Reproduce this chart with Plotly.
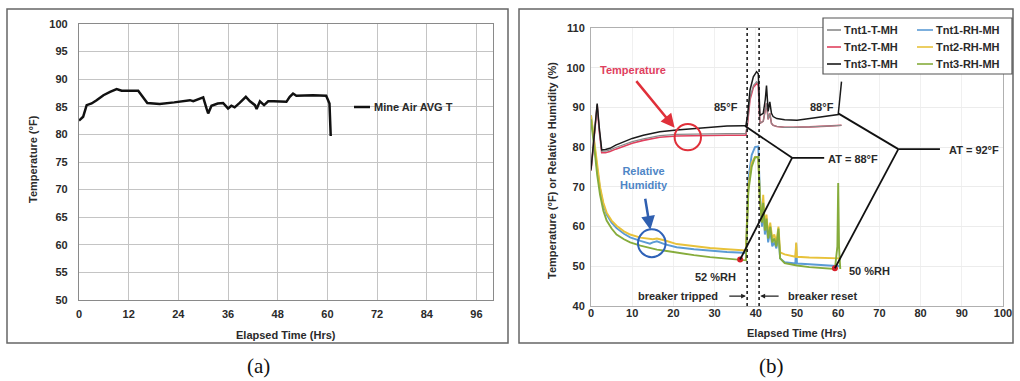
import plotly.graph_objects as go

# ---------------- Panel (a): Mine air average temperature ----------------
a_time = [0.0, 1.0, 1.85, 3.05, 4.25, 5.9, 7.5, 9.1, 10.3, 12.0, 14.3, 16.5, 19.5, 23.0, 26.8, 27.6,
          30.0, 30.8, 31.2, 32.0, 33.5, 34.8, 36.0, 36.8, 37.6, 38.8, 40.3, 41.3, 42.5, 42.9, 43.7,
          44.7, 45.7, 47.0, 50.1, 50.9, 51.7, 52.5, 56.5, 59.7, 60.5, 60.8]
a_temp = [82.5, 83.2, 85.3, 85.6, 86.2, 87.1, 87.7, 88.2, 87.9, 87.9, 87.9, 85.7, 85.5, 85.8, 86.2, 86.0,
          86.7, 84.7, 83.8, 85.2, 85.6, 85.7, 84.7, 85.2, 84.9, 85.7, 86.8, 86.0, 85.3, 84.6, 86.0,
          85.3, 86.0, 86.0, 85.9, 86.8, 87.4, 87.0, 87.1, 87.0, 85.6, 79.7]
a_xticks = [0, 12, 24, 36, 48, 60, 72, 84, 96]
a_yticks = [50, 55, 60, 65, 70, 75, 80, 85, 90, 95, 100]

# ---------------- Panel (b): tent temperatures and humidities ----------------
t_temp = [0, 0.5, 1, 1.5, 2, 2.6, 3.5, 4.6, 6, 8, 10, 12.7, 15, 16.7, 20.8, 24.8, 28.9, 33, 37,
          37.6, 38, 38.6, 39.4, 40.2, 40.6, 41, 41.8, 42.3, 42.6, 43, 43.4, 43.8, 44.2, 45.1, 47,
          49.1, 49.6, 49.8, 50, 53.1, 57.2, 59.5, 60, 60.4, 60.8]
tnt3_t = [74.3, 80, 86, 91, 85, 79.3, 79.4, 79.7, 80.5, 81.4, 82.2, 83, 83.6, 83.9, 84.3, 84.6, 85.1,
          85.3, 85.4, 85.4, 88, 94.4, 97.7, 99, 98.5, 88, 88.5, 92, 95.5, 89, 91.4, 88.5, 87.7, 87.2,
          86.9, 86.8, 86.8, 86.8, 86.8, 87.2, 87.7, 88, 88.2, 92.3, 96.5]
tnt2_t = [74.0, 79.5, 85.5, 90.5, 84, 78.6, 78.6, 78.9, 79.5, 80.3, 81.0, 81.7, 82.2, 82.5, 82.8, 82.9,
          83.0, 83.0, 83.0, 83.0, 86, 92, 95, 96, 95.5, 86, 86.5, 89, 91, 87, 88.5, 86, 85.5, 85.2,
          85.0, 85.0, 85.0, 85.0, 85.0, 85.1, 85.3, 85.5, 85.5, 85.5, 85.5]
tnt1_t = [74.0, 79.8, 85.8, 90.8, 84.4, 79.0, 79.0, 79.3, 79.9, 80.7, 81.4, 82.1, 82.6, 82.9, 83.2, 83.3,
          83.4, 83.4, 83.4, 83.4, 86.5, 92.5, 95.5, 96.5, 96, 86, 86.5, 89, 91, 87, 88.5, 86, 85.5, 85.2,
          85.0, 85.0, 85.0, 85.0, 85.0, 85.1, 85.3, 85.5, 85.5, 85.5, 85.5]

t_rh = [0, 0.5, 1, 1.5, 2.2, 3, 3.8, 5, 6.2, 8, 9.5, 12, 14.3, 15, 16, 18, 20.8, 25, 28.9, 33, 37,
        37.6, 38.2, 39, 39.8, 40.6, 41, 41.5, 41.8, 42.2, 42.6, 43, 43.5, 44, 44.5, 45, 45.5, 45.9,
        47, 49, 49.6, 49.8, 50, 53, 57, 59.2, 59.8, 60, 60.2, 60.5]
tnt2_rh = [88, 84, 79.5, 75, 70, 66, 63.5, 61.5, 60.2, 58.8, 58, 57.2, 56.8, 56.8, 57, 56.5, 55.6,
           55, 54.6, 54.3, 54.1, 54, 70, 76, 77.5, 77.5, 66, 62, 68, 60, 63, 58, 61, 57, 58, 56, 60,
           53.5, 53, 52.5, 52.4, 56, 52.4, 52.2, 52, 52, 52, 52, 52, 52]
tnt1_rh = [88, 84, 79, 74.5, 69.5, 65.5, 63, 61, 59.6, 58.2, 57.3, 56.4, 55.7, 56, 56.3, 55.5, 54.8,
           54.3, 53.9, 53.6, 53.4, 53.3, 72, 78, 80, 80.2, 68, 60, 65, 58, 61, 56, 59, 55, 56, 54.5,
           58, 52, 51, 50.8, 50.7, 55.7, 50.7, 50.5, 50.2, 50, 50, 50, 50, 50]
tnt3_rh = [87, 83, 78, 73, 68, 64, 61.5, 59.5, 58, 56.8, 56, 55.2, 54.6, 54.4, 54.2, 53.9, 53.4,
           52.8, 52.3, 51.9, 51.6, 51.5, 69, 75, 77.4, 77.5, 67, 61, 66, 59, 62, 57, 60, 56, 57, 55,
           59.5, 52, 50.8, 50.3, 50.2, 50.2, 50.2, 49.8, 49.4, 49.3, 55, 71, 55, 49.3]
b_xticks = list(range(0, 101, 10))
b_yticks = list(range(40, 111, 10))

# call-out labels (data coordinates of panel b)
callout_text = ["85°F", "88°F", "AT = 88°F", "AT = 92°F", "52 %RH", "50 %RH"]
callout_x = [32.8, 56.1, 63.6, 93.0, 30.1, 67.7]
callout_y = [90.1, 90.1, 76.9, 79.4, 47.4, 48.8]
# leader lines: hub -> curve points, hub -> label
hub88 = (48.8, 77.3)
hub88_ends = [(37.4, 85.3), (36.2, 51.7), (56.6, 77.3)]
hub92 = (74.6, 79.5)
hub92_ends = [(60.0, 88.5), (59.2, 49.5), (84.7, 79.5)]
marker_x = [36.2, 59.2]
marker_y = [51.7, 49.5]
breaker_x = [37.9, 40.8]

# legend entries of panel b (column-major as in the figure)
legend_b = [["Tnt1-T-MH", "Tnt2-T-MH", "Tnt3-T-MH"], ["Tnt1-RH-MH", "Tnt2-RH-MH", "Tnt3-RH-MH"]]

W, H = 1020, 381
LA = dict(x=[79 / W, 493 / W], y=[1 - 300 / H, 1 - 24 / H])
LB = dict(x=[591 / W, 1003 / W], y=[1 - 306 / H, 1 - 28 / H])
FONT = "Liberation Sans"
TXT = "#2a2a2a"
colors = {"Mine Air AVG T": "#111111",
          "Tnt1-T-MH": "#8a8a8a", "Tnt2-T-MH": "#e0405e", "Tnt3-T-MH": "#1a1a1a",
          "Tnt1-RH-MH": "#5b9bd5", "Tnt2-RH-MH": "#e8c23a", "Tnt3-RH-MH": "#86ac3c"}

fig = go.Figure()
fig.add_trace(go.Scatter(x=a_time, y=a_temp, mode="lines", name="Mine Air AVG T",
                         line=dict(color=colors["Mine Air AVG T"], width=2.5), xaxis="x", yaxis="y"))
for nm, yy in [("Tnt1-RH-MH", tnt1_rh), ("Tnt2-RH-MH", tnt2_rh), ("Tnt3-RH-MH", tnt3_rh)]:
    fig.add_trace(go.Scatter(x=t_rh, y=yy, mode="lines", name=nm,
                             line=dict(color=colors[nm], width=1.9), xaxis="x2", yaxis="y2"))
fig.add_trace(go.Scatter(x=t_temp, y=tnt2_t, mode="lines", name="Tnt2-T-MH",
                         line=dict(color=colors["Tnt2-T-MH"], width=1.6), xaxis="x2", yaxis="y2"))
fig.add_trace(go.Scatter(x=t_temp, y=tnt1_t, mode="lines", name="Tnt1-T-MH",
                         line=dict(color=colors["Tnt1-T-MH"], width=1.2), xaxis="x2", yaxis="y2"))
fig.add_trace(go.Scatter(x=t_temp, y=tnt3_t, mode="lines", name="Tnt3-T-MH",
                         line=dict(color=colors["Tnt3-T-MH"], width=1.5), xaxis="x2", yaxis="y2"))
fig.add_trace(go.Scatter(x=marker_x, y=marker_y, mode="markers", name="points",
                         marker=dict(color="#d8202a", size=6), xaxis="x2", yaxis="y2"))

shapes = []
ann = []
BOLD = dict(size=11, color=TXT, family=FONT, weight="bold")


def px(x, y):
    return x / W, 1 - y / H


# panel frames
for x0, x1 in [(7, 508), (519, 1013)]:
    shapes.append(dict(type="rect", xref="paper", yref="paper", x0=x0 / W, x1=x1 / W, y0=1 - 343 / H,
                       y1=1 - 9 / H, line=dict(color="#666", width=1.5)))
for bx in breaker_x:
    shapes.append(dict(type="line", xref="x2", yref="y2", x0=bx, x1=bx, y0=40, y1=110,
                       line=dict(color="#111", width=1.5, dash="dot")))
for hub, ends in [(hub88, hub88_ends), (hub92, hub92_ends)]:
    for ex, ey in ends:
        shapes.append(dict(type="line", xref="x2", yref="y2", x0=hub[0], y0=hub[1], x1=ex, y1=ey,
                           line=dict(color="#111", width=1.8)))
shapes.append(dict(type="circle", xref="x2", yref="y2", x0=20.3, x1=26.7, y0=79.2, y1=85.8,
                   line=dict(color="#e0303a", width=2)))
shapes.append(dict(type="circle", xref="x2", yref="y2", x0=11.4, x1=18.1, y0=52.3, y1=59.3,
                   line=dict(color="#2f62b8", width=2)))

# legend (a)
sx0, sy = px(354, 107)
sx1, _ = px(370, 107)
shapes.append(dict(type="line", xref="paper", yref="paper", x0=sx0, x1=sx1, y0=sy, y1=sy,
                   line=dict(color=colors["Mine Air AVG T"], width=2.5)))
ann.append(dict(text="Mine Air AVG T", x=px(372, 0)[0], y=sy, xref="paper", yref="paper",
                xanchor="left", yanchor="middle", showarrow=False, font=BOLD))
# legend (b)
bx0, by1 = px(823, 18)
bx1, by0 = px(1012, 74)
shapes.append(dict(type="rect", xref="paper", yref="paper", x0=bx0, x1=bx1, y0=by0, y1=by1,
                   fillcolor="white", line=dict(color="#555", width=1.2)))
col_sw = [(827, 841), (917, 933)]
row_y = [30, 47, 64]
for ci, col in enumerate(legend_b):
    for ri, nm in enumerate(col):
        a0, yy = px(col_sw[ci][0], row_y[ri])
        a1, _ = px(col_sw[ci][1], row_y[ri])
        shapes.append(dict(type="line", xref="paper", yref="paper", x0=a0, x1=a1, y0=yy, y1=yy,
                           line=dict(color=colors[nm], width=1.6)))
        ann.append(dict(text=nm, x=a1 + 1 / W, y=yy, xref="paper", yref="paper", xanchor="left",
                        yanchor="middle", showarrow=False, font=BOLD))

for tx, xx, yy in zip(callout_text, callout_x, callout_y):
    ann.append(dict(text=tx, x=xx, y=yy, xref="x2", yref="y2", showarrow=False, font=BOLD))
ann.append(dict(text="Temperature", x=10.3, y=99.5, xref="x2", yref="y2", showarrow=False,
                font=dict(size=11, color="#e0405e", family=FONT, weight="bold")))
ann.append(dict(text="Relative<br>Humidity", x=12.8, y=72.3, xref="x2", yref="y2", showarrow=False,
                font=dict(size=11, color="#4f86c6", family=FONT, weight="bold")))
ann.append(dict(text="", x=20.3, y=84.9, ax=10.7, ay=97.0, xref="x2", yref="y2", axref="x2", ayref="y2",
                showarrow=True, arrowhead=2, arrowsize=1.1, arrowwidth=2.5, arrowcolor="#e0303a"))
ann.append(dict(text="", x=14.4, y=59.2, ax=13.1, ay=67.4, xref="x2", yref="y2", axref="x2", ayref="y2",
                showarrow=True, arrowhead=2, arrowsize=1.1, arrowwidth=2.5, arrowcolor="#2f5fb0"))
ann.append(dict(text="breaker tripped", x=31.3, y=42.5, xref="x2", yref="y2", xanchor="right",
                showarrow=False, font=BOLD))
ann.append(dict(text="breaker reset", x=47.3, y=42.5, xref="x2", yref="y2", xanchor="left",
                showarrow=False, font=BOLD))
ann.append(dict(text="", x=37.6, y=42.5, ax=33.2, ay=42.5, xref="x2", yref="y2", axref="x2", ayref="y2",
                showarrow=True, arrowhead=2, arrowsize=0.8, arrowwidth=1.2, arrowcolor="#222"))
ann.append(dict(text="", x=41.1, y=42.5, ax=45.9, ay=42.5, xref="x2", yref="y2", axref="x2", ayref="y2",
                showarrow=True, arrowhead=2, arrowsize=0.8, arrowwidth=1.2, arrowcolor="#222"))


def title_ann(text, x, y, angle=0, font=BOLD):
    ax_, ay_ = px(x, y)
    return dict(text=text, x=ax_, y=ay_, xref="paper", yref="paper", xanchor="center",
                yanchor="middle", textangle=angle, showarrow=False, font=font)


ann.append(title_ann("Temperature (°F)", 33, 159, -90))
ann.append(title_ann("Elapsed Time (Hrs)", 286, 335))
ann.append(title_ann("Temperature (°F) or Relative Humidity (%)", 552, 171, -90))
ann.append(title_ann("Elapsed Time (Hrs)", 797, 333))
serif = dict(size=21, color="#111", family="Liberation Serif")
ann.append(title_ann("(a)", 258, 366, 0, serif))
ann.append(title_ann("(b)", 771, 366, 0, serif))

tickf = BOLD
fig.update_layout(
    width=W, height=H, autosize=False, showlegend=False,
    margin=dict(l=0, r=0, t=0, b=0, pad=0),
    paper_bgcolor="white", plot_bgcolor="white",
    font=dict(family=FONT, size=11, color=TXT),
    xaxis=dict(domain=LA["x"], range=[0, 100], tickvals=a_xticks, showgrid=True, gridcolor="#c4c4c4",
               gridwidth=1, showline=True, linecolor="#8a8a8a", linewidth=1.2, mirror=True,
               zeroline=False, tickfont=tickf, ticklabelstandoff=4, anchor="y", automargin=False),
    yaxis=dict(domain=LA["y"], range=[50, 100], tickvals=a_yticks, showgrid=True, gridcolor="#c4c4c4",
               gridwidth=1, showline=True, linecolor="#8a8a8a", linewidth=1.2, mirror=True,
               zeroline=False, tickfont=tickf, ticklabelstandoff=8, anchor="x", automargin=False),
    xaxis2=dict(domain=LB["x"], range=[0, 100], tickvals=b_xticks, showgrid=True, gridcolor="#f0f0f0",
                showline=True, linecolor="#b0b0b0", linewidth=1, mirror=True, zeroline=False,
                tickfont=tickf, ticklabelstandoff=-3, anchor="y2", automargin=False),
    yaxis2=dict(domain=LB["y"], range=[40, 110], tickvals=b_yticks, showgrid=True, gridcolor="#ececec",
                showline=True, linecolor="#b0b0b0", linewidth=1, mirror=True, zeroline=False,
                tickfont=tickf, ticklabelstandoff=3, anchor="x2", automargin=False),
    shapes=shapes, annotations=ann,
)

fig.write_html("out.html", config={"displayModeBar": False},
               post_script="document.body.style.margin='0px';document.body.style.overflow='hidden';")
